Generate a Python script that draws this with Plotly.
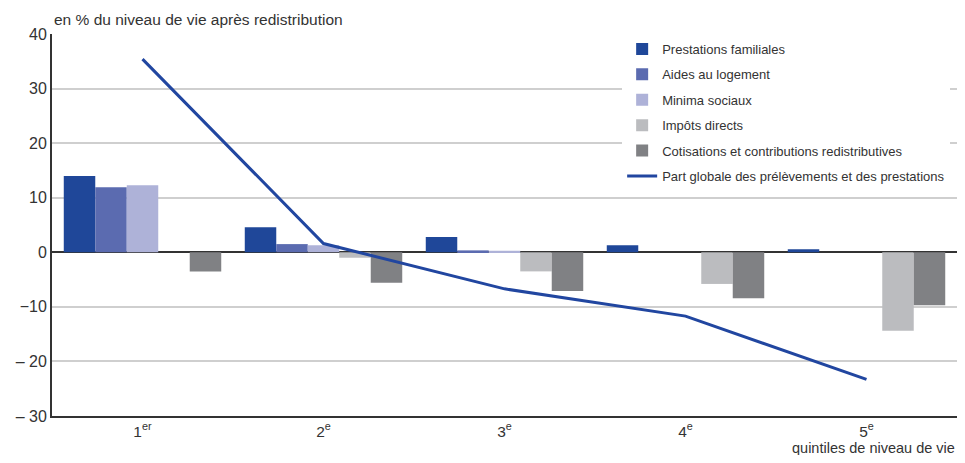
import plotly.graph_objects as go

categories = ["1<sup>er</sup>", "2<sup>e</sup>", "3<sup>e</sup>", "4<sup>e</sup>", "5<sup>e</sup>"]
prestations_familiales = [14.0, 4.6, 2.8, 1.3, 0.55]
aides_logement = [11.9, 1.5, 0.35, 0.0, 0.0]
minima_sociaux = [12.3, 1.3, 0.3, 0.0, 0.0]
impots_directs = [0.0, -1.0, -3.5, -5.8, -14.4]
cotisations = [-3.5, -5.6, -7.1, -8.4, -9.7]
part_globale = [35.4, 1.6, -6.7, -11.7, -23.3]

y_ticks = [40, 30, 20, 10, 0, -10, -20, -30]
y_tick_labels = ["40", "30", "20", "10", "0", "\u221210", "\u2013 20", "\u2013 30"]

FONT = "Liberation Sans, Arial, sans-serif"

fig = go.Figure()
bar_series = [
    ("Prestations familiales", prestations_familiales, "#1F4799"),
    ("Aides au logement", aides_logement, "#5B6BB0"),
    ("Minima sociaux", minima_sociaux, "#AEB2D8"),
    ("Impôts directs", impots_directs, "#BBBCBF"),
    ("Cotisations et contributions redistributives", cotisations, "#808184"),
]
for i, (name, vals, col) in enumerate(bar_series):
    fig.add_trace(go.Bar(x=categories, y=vals, name=name, marker_color=col,
                         marker_line_width=0, legendgroup=f"g{i}"))
fig.add_trace(go.Scatter(x=categories, y=part_globale, mode="lines",
                         name="Part globale des prélèvements et des prestations",
                         line=dict(color="#2146A0", width=3), legendgroup="g5"))

# page body has an 8px default margin; figure sized to fit the window without overflow
fig.update_layout(
    width=949, height=447,
    margin=dict(l=44, r=0, t=26, b=39),
    paper_bgcolor="white", plot_bgcolor="white",
    barmode="group", bargap=0.13, bargroupgap=0,
    font=dict(family=FONT, color="#333333", size=14),
    showlegend=True,
    legend=dict(x=0.63, y=1.0, xanchor="left", yanchor="top",
                bgcolor="white", borderwidth=0,
                font=dict(family=FONT, size=13, color="#333333"),
                tracegroupgap=5.5, traceorder="grouped"),
    xaxis=dict(showgrid=False, showline=True, linecolor="#333333", linewidth=2,
               automargin=False, ticks="",
               tickfont=dict(family=FONT, size=15.5, color="#333333")),
    yaxis=dict(range=[-30, 40], tickvals=y_ticks, ticktext=y_tick_labels,
               automargin=False,
               showgrid=True, gridcolor="#CFCFCF", gridwidth=1.5,
               zeroline=True, zerolinecolor="#333333", zerolinewidth=2,
               showline=True, linecolor="#333333", linewidth=2,
               ticks="", ticklen=0,
               tickfont=dict(family=FONT, size=16, color="#333333")),
    annotations=[
        dict(text="en % du niveau de vie après redistribution", xref="paper", yref="paper",
             x=0, y=1, xanchor="left", yanchor="bottom", yshift=4, showarrow=False,
             font=dict(family=FONT, size=15.5, color="#333333")),
        dict(text="quintiles de niveau de vie", xref="paper", yref="paper",
             x=1, y=0, xanchor="right", yanchor="top", yshift=-22, xshift=0, showarrow=False,
             font=dict(family=FONT, size=14.5, color="#333333")),
    ],
)
fig.write_html("out.html")
